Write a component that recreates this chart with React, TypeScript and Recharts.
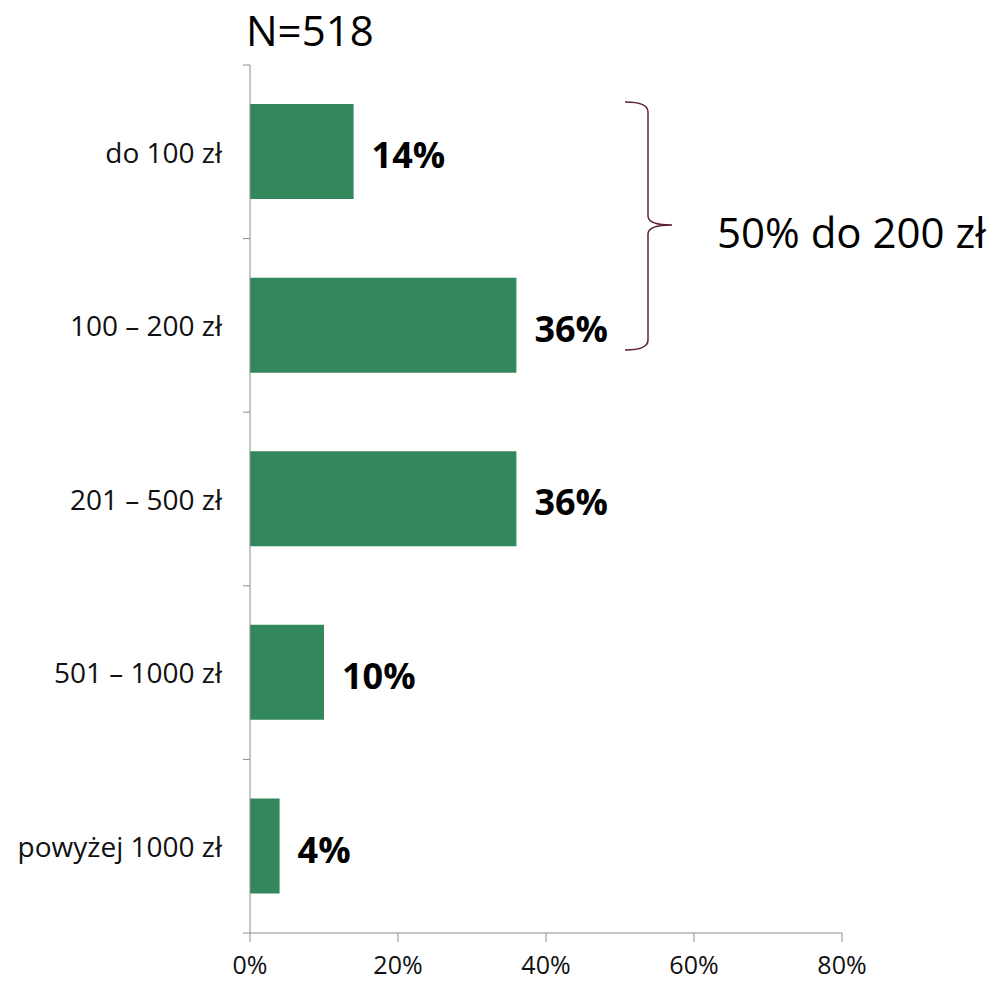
import * as React from "react";
import { Bar, BarChart, LabelList, XAxis, YAxis } from "recharts";

const categories = ["do 100 zł", "100 – 200 zł", "201 – 500 zł", "501 – 1000 zł", "powyżej 1000 zł"];
const shares = [0.14, 0.36, 0.36, 0.1, 0.04];
const xTicks = [0, 0.2, 0.4, 0.6, 0.8];

const data = categories.map((cat, i) => ({ cat, value: shares[i] }));

const FONT = "'Open Sans', sans-serif";
const AXIS = "#8c8c8c";
const pct = (v: number) => `${Math.round(v * 100)}%`;

const CategoryTick = (props: any) => {
  const { x, y, payload, index, visibleTicksCount } = props;
  const half = payload?.offset ?? 86.8;
  const last = index === visibleTicksCount - 1;
  return (
    <g>
      <line x1={x - 7} x2={x} y1={y - half} y2={y - half} stroke={AXIS} />
      {last && <line x1={x - 7} x2={x} y1={y + half} y2={y + half} stroke={AXIS} />}
      <text x={x - 28} y={y + 1} dy="0.35em" textAnchor="end" fontFamily={FONT} fontSize={28} fill="#111">
        {payload.value}
      </text>
    </g>
  );
};

const ValueLabel = (props: any) => {
  const { x, y, width, height, value } = props;
  return (
    <text
      x={x + width + 18}
      y={y + height / 2 + 4}
      dy="0.35em"
      fontFamily={FONT}
      fontWeight={700}
      fontSize={36}
      fill="#000"
    >
      {pct(value)}
    </text>
  );
};

export default function App() {
  return (
    <div style={{ position: "absolute", left: 0, top: 0, width: 995, height: 983, background: "#fff" }}>
      <div
        style={{
          position: "absolute",
          left: 246,
          top: 2,
          fontFamily: FONT,
          fontSize: 42,
          lineHeight: "56px",
          color: "#000",
        }}
      >
        N=518
      </div>
      <BarChart
        width={995}
        height={983}
        data={data}
        layout="vertical"
        margin={{ top: 65, right: 153, bottom: 0, left: 0 }}
        barCategoryGap="22.5%"
      >
        <XAxis
          type="number"
          domain={[0, 0.8]}
          ticks={xTicks}
          tickFormatter={pct}
          height={50}
          tickSize={9}
          tickMargin={14}
          axisLine={{ stroke: AXIS }}
          tickLine={{ stroke: AXIS }}
          tick={{ fill: "#111", fontFamily: FONT, fontSize: 25 }}
        />
        <YAxis
          type="category"
          dataKey="cat"
          width={250}
          tickSize={0}
          tickMargin={0}
          tickLine={false}
          axisLine={{ stroke: AXIS }}
          tick={<CategoryTick />}
        />
        <Bar dataKey="value" fill="#33875c" isAnimationActive={false}>
          <LabelList dataKey="value" content={<ValueLabel />} />
        </Bar>
      </BarChart>
      <svg
        width={995}
        height={983}
        style={{ position: "absolute", left: 0, top: 0, pointerEvents: "none" }}
      >
        <path
          d="M625,102 Q648,102 648,112 L648,216 Q648,225 672,225 Q648,225 648,234 L648,340 Q648,350 625,350"
          fill="none"
          stroke="#5e2333"
          strokeWidth={1.5}
        />
        <text x={717} y={248} fontFamily={FONT} fontSize={42} fill="#000">
          50% do 200 zł
        </text>
      </svg>
    </div>
  );
}
